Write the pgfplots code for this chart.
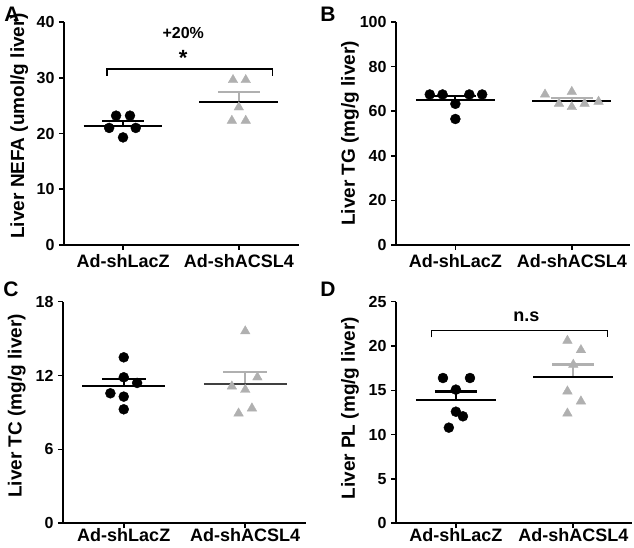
\documentclass[border=0pt]{standalone}
\usepackage{fontspec}
\setmainfont{Liberation Sans}
\usepackage{pgfplots}
\pgfplotsset{compat=1.18}

\definecolor{ptgray}{RGB}{176,176,176}

\pgfplotsset{
  panel/.style={
    scale only axis, clip=false,
    axis x line*=bottom, axis y line*=left,
    axis line style={-, line width=1.6pt},
    tick style={line width=1.6pt, black},
    tick align=outside, major tick length=5pt,
    xmin=0.49, xmax=2.5, xtick={1,2},
    xticklabels={Ad-shLacZ, Ad-shACSL4},
    ymin=0,
    /pgf/number format/assume math mode=true,
    yticklabel style={font=\fontsize{16}{19}\selectfont\bfseries, xshift=-1pt},
    xticklabel style={font=\fontsize{18}{21}\selectfont\bfseries},
    ylabel style={font=\fontsize{19}{22}\selectfont\bfseries, anchor=center},
  },
  dots/.style={only marks, mark=*, mark size=5pt, black, mark options={fill=black, draw=black}},
  tris/.style={only marks, mark=triangle*, mark size=5.5pt, ptgray, mark options={fill=ptgray, draw=ptgray}},
  meanline/.style={black, line width=2.2pt, no marks},
  semblk/.style={black, line width=2.2pt, no marks},
  semgry/.style={ptgray, line width=2.2pt, no marks},
  bracket/.style={black, line width=1.4pt, no marks},
}
\newcommand{\plab}[1]{\fontsize{21}{24}\selectfont\bfseries #1}

\begin{document}
\begin{tikzpicture}[x=1pt,y=1pt]
\useasboundingbox (0,0) rectangle (634,548);

% Panel A
\begin{axis}[panel, at={(64pt,303pt)}, width=235pt, height=223pt,
  xmax=2.52, ymax=40, ytick={0,10,20,30,40},
  xticklabel style={yshift=-1pt},
  ylabel style={at={(axis description cs:-0.19,0.535)}},
  ylabel={Liver NEFA (umol/g liver)}]
\addplot[dots] coordinates {(0.88,21.0) (0.94,23.2) (1.0,19.3) (1.06,23.2) (1.11,21.0)};
\addplot[tris] coordinates {(1.95,29.6) (2.06,29.6) (2.0,24.7) (1.94,22.3) (2.06,22.3)};
\addplot[semblk] coordinates {(1,21.4) (1,22.3)};
\addplot[semblk] coordinates {(0.82,22.3) (1.18,22.3)};
\addplot[meanline] coordinates {(0.66,21.4) (1.34,21.4)};
\addplot[semgry] coordinates {(2,25.7) (2,27.4)};
\addplot[semgry] coordinates {(1.82,27.4) (2.18,27.4)};
\addplot[meanline] coordinates {(1.66,25.7) (2.34,25.7)};
\addplot[bracket] coordinates {(0.86,30.4) (0.86,31.6) (2.29,31.6) (2.29,30.4)};
\node[font=\fontsize{22}{24}\selectfont\bfseries] at (axis cs:1.52,33.6) {*};
\node[font=\fontsize{16}{19}\selectfont\bfseries] at (axis cs:1.52,38.0) {+20\%};
\end{axis}

% Panel B
\begin{axis}[panel, at={(396pt,303pt)}, width=234pt, height=223pt,
  ymax=100, ytick={0,20,40,60,80,100},
  xticklabel style={yshift=-1pt},
  ylabel style={at={(axis description cs:-0.197,0.5)}},
  ylabel={Liver TG (mg/g liver)}]
\addplot[dots] coordinates {(0.78,67.5) (0.89,67.5) (1.12,67.5) (1.23,67.5) (1.0,63.3) (1.0,56.5)};
\addplot[tris] coordinates {(1.77,67.5) (1.89,63.4) (2.0,68.7) (2.0,61.9) (2.11,63.4) (2.23,64.3)};
\addplot[semblk] coordinates {(1,65.0) (1,66.8)};
\addplot[semblk] coordinates {(0.82,66.8) (1.18,66.8)};
\addplot[meanline] coordinates {(0.66,65.0) (1.34,65.0)};
\addplot[semgry] coordinates {(2,64.7) (2,65.9)};
\addplot[semgry] coordinates {(1.82,65.9) (2.18,65.9)};
\addplot[meanline] coordinates {(1.66,64.7) (2.34,64.7)};
\end{axis}

% Panel C
\begin{axis}[panel, at={(63pt,24.7pt)}, width=243pt, height=221.6pt,
  xmin=0.5, ymax=18, ytick={0,6,12,18},
  xticklabel style={yshift=3pt},
  ylabel style={at={(axis description cs:-0.19,0.53)}},
  ylabel={Liver TC (mg/g liver)}]
\addplot[dots] coordinates {(1.0,13.48) (1.0,11.86) (1.11,11.4) (0.89,10.56) (1.0,10.29) (1.0,9.26)};
\addplot[tris] coordinates {(2.0,15.6) (2.1,11.86) (1.89,11.12) (2.0,10.85) (2.055,9.34) (1.945,8.93)};
\addplot[semblk] coordinates {(1,11.15) (1,11.75)};
\addplot[semblk] coordinates {(0.82,11.75) (1.18,11.75)};
\addplot[meanline] coordinates {(0.66,11.15) (1.34,11.15)};
\addplot[semgry] coordinates {(2,11.3) (2,12.27)};
\addplot[semgry] coordinates {(1.82,12.27) (2.18,12.27)};
\addplot[meanline, black!75] coordinates {(1.66,11.3) (2.34,11.3)};
\end{axis}

% Panel D
\begin{axis}[panel, at={(396pt,24.7pt)}, width=236pt, height=221.6pt,
  ymax=25, ytick={0,5,10,15,20,25},
  xticklabel style={yshift=3pt},
  ylabel style={at={(axis description cs:-0.195,0.52)}},
  ylabel={Liver PL (mg/g liver)}]
\addplot[dots] coordinates {(0.89,16.39) (1.12,16.39) (1.0,15.08) (1.0,12.59) (1.06,12.07) (0.94,10.79)};
\addplot[tris] coordinates {(1.95,20.6) (2.065,19.55) (2.0,17.9) (1.95,14.89) (2.065,13.76) (1.95,12.4)};
\addplot[semblk] coordinates {(1,13.9) (1,14.86)};
\addplot[semblk] coordinates {(0.82,14.86) (1.18,14.86)};
\addplot[meanline] coordinates {(0.66,13.9) (1.34,13.9)};
\addplot[semgry] coordinates {(2,16.53) (2,17.92)};
\addplot[semgry] coordinates {(1.82,17.92) (2.18,17.92)};
\addplot[meanline] coordinates {(1.66,16.53) (2.34,16.53)};
\addplot[bracket] coordinates {(0.79,20.98) (0.79,21.73) (2.29,21.73) (2.29,20.98)};
\node[font=\fontsize{18}{21}\selectfont\bfseries] at (axis cs:1.6,23.3) {n.s};
\end{axis}

\node[font=\plab{}] at (12,534) {A};
\node[font=\plab{}] at (328,534) {B};
\node[font=\plab{}] at (11,259) {C};
\node[font=\plab{}] at (328,259) {D};
\end{tikzpicture}
\end{document}
